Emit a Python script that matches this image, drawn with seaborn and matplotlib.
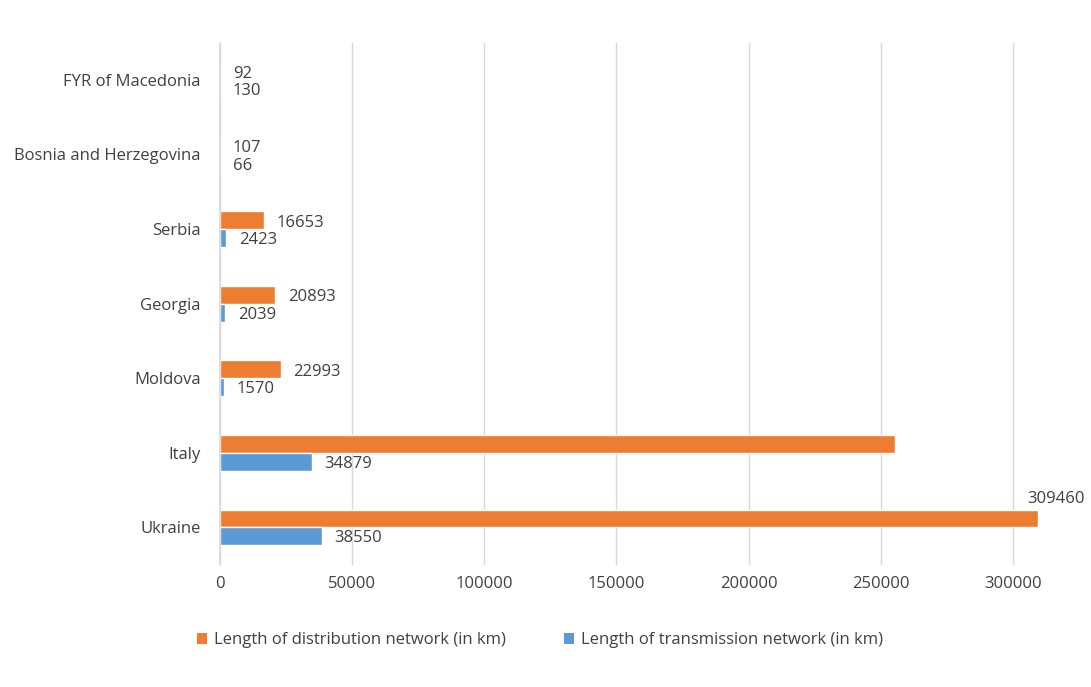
import matplotlib
matplotlib.use("Agg")
import matplotlib.pyplot as plt
import seaborn as sns
import pandas as pd
from matplotlib.patches import Patch

countries = ["FYR of Macedonia", "Bosnia and Herzegovina", "Serbia", "Georgia",
             "Moldova", "Italy", "Ukraine"]
distribution = [92, 107, 16653, 20893, 22993, 255500, 309460]
transmission = [130, 66, 2423, 2039, 1570, 34879, 38550]
show_dist_label = [True, True, True, True, True, False, True]
series_names = ["Length of distribution network (in km)",
                "Length of transmission network (in km)"]
colors = ["#ED7D31", "#5B9BD5"]
xticks = [0, 50000, 100000, 150000, 200000, 250000, 300000]

df = pd.DataFrame({
    "country": countries * 2,
    "value": distribution + transmission,
    "series": [series_names[0]] * len(countries) + [series_names[1]] * len(countries),
})

sns.set_theme(style="white")
plt.rcParams["font.family"] = ["Open Sans", "DejaVu Sans"]
text_color = "#404040"
fs = 12

fig = plt.figure(figsize=(10.91, 6.87), dpi=100)
ax = fig.add_axes([0.2016, 0.178, 0.78, 0.76])

sns.barplot(data=df, y="country", x="value", hue="series", order=countries,
            hue_order=series_names, palette=colors, orient="h", width=0.48,
            ax=ax, legend=False, saturation=1)

ax.set_xlim(0, 321900)
ax.set_ylim(6.5, -0.5)
ax.set_xticks(xticks)
ax.set_xticklabels([str(t) for t in xticks])
ax.xaxis.grid(True, color="#D9D9D9", linewidth=1)
ax.set_axisbelow(True)
for s in ["top", "right", "bottom"]:
    ax.spines[s].set_visible(False)
ax.spines["left"].set_color("#D9D9D9")
ax.set_xlabel("")
ax.set_ylabel("")
ax.tick_params(axis="both", length=0, labelsize=fs, colors=text_color, pad=8)
ax.tick_params(axis="y", pad=14)

# data labels
cont_d, cont_t = ax.containers[0], ax.containers[1]
for i, (bar, v) in enumerate(zip(cont_d, distribution)):
    if not show_dist_label[i]:
        continue
    y = bar.get_y() + bar.get_height() / 2
    if countries[i] == "Ukraine":
        ax.annotate(str(v), (bar.get_width(), bar.get_y()), xytext=(13, 2),
                    textcoords="offset points", ha="center", va="bottom",
                    fontsize=fs, color=text_color)
    else:
        ax.annotate(str(v), (bar.get_width(), y), xytext=(9, -2),
                    textcoords="offset points", ha="left", va="center",
                    fontsize=fs, color=text_color)
for i, (bar, v) in enumerate(zip(cont_t, transmission)):
    y = bar.get_y() + bar.get_height() / 2
    ax.annotate(str(v), (bar.get_width(), y), xytext=(9, -1.5),
                textcoords="offset points", ha="left", va="center",
                fontsize=fs, color=text_color)

handles = [Patch(facecolor=c, edgecolor="none") for c in colors]
fig.legend(handles, series_names, loc="center", bbox_to_anchor=(0.495, 0.068),
           ncol=2, frameon=False, fontsize=fs, handlelength=0.6, handleheight=0.6,
           handletextpad=0.4, columnspacing=3.5, labelcolor=text_color)

fig.savefig("out.png", dpi=100, facecolor="white")
